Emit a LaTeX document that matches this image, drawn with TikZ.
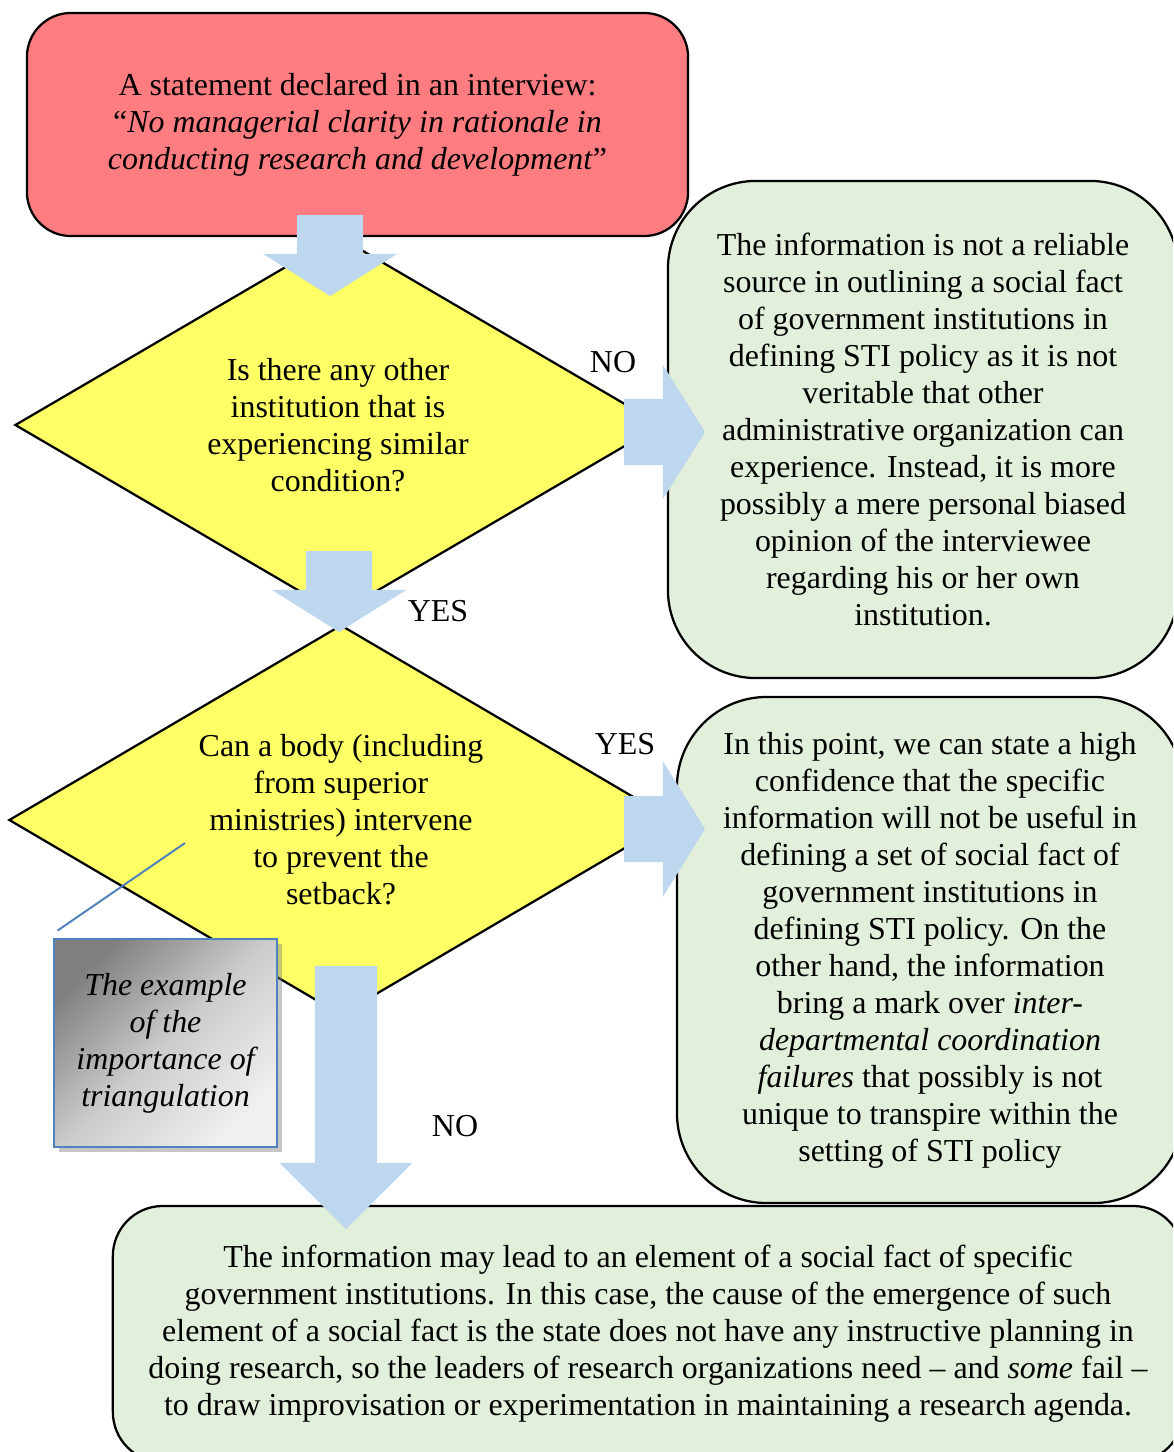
\documentclass[tikz,border=0pt]{standalone}
\usepackage{fontspec}
\setmainfont{Liberation Serif}
\definecolor{stmtred}{RGB}{255,125,128}
\definecolor{qyellow}{RGB}{255,255,102}
\definecolor{resgreen}{RGB}{226,239,218}
\definecolor{flowblue}{RGB}{189,215,238}
\definecolor{steel}{RGB}{79,129,189}
\usetikzlibrary{shapes.geometric, calc, shadows}

% block arrow: from, to, half shaft, half head, head length
\newcommand{\blockarrow}[5]{%
  \coordinate (hb) at ($(#2)!#5!(#1)$);
  \fill[flow] ($(#1)!#3!90:(#2)$) -- ($(hb)!#3!90:(#2)$) -- ($(hb)!#4!90:(#2)$) -- (#2)
    -- ($(hb)!#4!-90:(#2)$) -- ($(hb)!#3!-90:(#2)$) -- ($(#1)!#3!-90:(#2)$) -- cycle;}

\begin{document}
\begin{tikzpicture}[
      x=0.025cm, y=-0.025cm,
      every node/.style={font=\fontsize{22.7}{26.3}\selectfont, align=center},
      stmt/.style={rectangle, rounded corners=1.1cm, draw=black, line width=1.6pt,
                   fill=stmtred, inner sep=0pt},
      outcome/.style={rectangle, rounded corners=2.2cm, draw=black, line width=1.6pt,
                      fill=resgreen, inner sep=0pt},
      decision/.style={diamond, aspect=1.7, draw=black, line width=1.6pt,
                       fill=qyellow, inner sep=0pt},
      note/.style={rectangle, draw=steel, line width=2pt, inner sep=0pt,
                   left color=black!50, right color=black!6, middle color=black!20,
                   shading angle=45,
                   drop shadow={shadow xshift=1.2mm, shadow yshift=-1.2mm, opacity=0.45},
                   font=\fontsize{22.7}{26.3}\selectfont\itshape},
      answer/.style={inner sep=0pt},
      callout/.style={draw=steel, line width=1.4pt},
      flow/.style={fill=flowblue}
    ]
    \clip (0,0) rectangle (1173,1452);

    % statement
    \node[stmt, minimum width=16.525cm, minimum height=5.575cm] (quote) at (357.5,124.5)
      {A statement declared in an interview:\\
       “\textit{No managerial clarity in rationale in}\\
       \textit{conducting research and development}”};

    % first question and its NO outcome
    \node[outcome, minimum width=12.75cm, minimum height=12.425cm] (unreliable) at (923,429.5)
      {The information is not a reliable\\ source in outlining a social fact\\
       of government institutions in\\ defining STI policy as it is not\\
       veritable that other\\ administrative organization can\\
       experience. Instead, it is more\\ possibly a mere personal biased\\
       opinion of the interviewee\\ regarding his or her own\\ institution.};
    \node[decision, minimum width=16.15cm, minimum height=9.45cm] (similar) at (338,425)
      {Is there any other\\ institution that is\\ experiencing similar\\ condition?};

    % second question and its YES outcome
    \node[decision, minimum width=16.6cm, minimum height=9.75cm] (intervene) at (341,820)
      {Can a body (including\\ from superior\\ ministries) intervene\\ to prevent the\\ setback?};
    \node[outcome, rounded corners=2.25cm, minimum width=12.65cm, minimum height=12.65cm] (coord) at (930,950)
      {In this point, we can state a high\\ confidence that the specific\\
       information will not be useful in\\ defining a set of social fact of\\
       government institutions in\\ defining STI policy. On the\\
       other hand, the information\\ bring a mark over \textit{inter-}\\
       \textit{departmental coordination}\\ \textit{failures} that possibly is not\\
       unique to transpire within the\\ setting of STI policy};

    % final outcome
    \node[outcome, rounded corners=1.25cm, minimum width=26.75cm, minimum height=6.4cm] (element) at (648,1334)
      {The information may lead to an element of a social fact of specific\\
       government institutions. In this case, the cause of the emergence of such\\
       element of a social fact is the state does not have any instructive planning in\\
       doing research, so the leaders of research organizations need – and \textit{some} fail –\\
       to draw improvisation or experimentation in maintaining a research agenda.};

    % side note
    \node[note, minimum width=5.575cm, minimum height=5.2cm] (triang) at (165.5,1043)
      {The example\\ of the\\ importance of\\ triangulation};
    \coordinate (calltip) at (185,843);
    \draw[callout] ([xshift=1.25mm, yshift=1.75mm]triang.north west) -- (calltip);

    % answers
    \node[answer] (no1) at (613,362) {NO};
    \node[answer] (yes1) at (438,611) {YES};
    \node[answer] (yes2) at (625,744) {YES};
    \node[answer] (no2) at (455,1126) {NO};

    % block arrows
    \coordinate (q0s) at (330,215);  \coordinate (q0e) at (330,296);
    \coordinate (q1s) at (339,551);  \coordinate (q1e) at (339,632);
    \coordinate (n1s) at (624,432);  \coordinate (n1e) at (705,432);
    \coordinate (y2s) at (624,829);  \coordinate (y2e) at (705,829);
    \coordinate (n2s) at (346,966);  \coordinate (n2e) at (346,1229);
    \blockarrow{q0s}{q0e}{0.825cm}{1.675cm}{1.05cm}
    \blockarrow{q1s}{q1e}{0.825cm}{1.675cm}{1.05cm}
    \blockarrow{n1s}{n1e}{0.825cm}{1.675cm}{1.05cm}
    \blockarrow{y2s}{y2e}{0.825cm}{1.69cm}{1.05cm}
    \blockarrow{n2s}{n2e}{0.775cm}{1.66cm}{1.65cm}

  \end{tikzpicture}
\end{document}
